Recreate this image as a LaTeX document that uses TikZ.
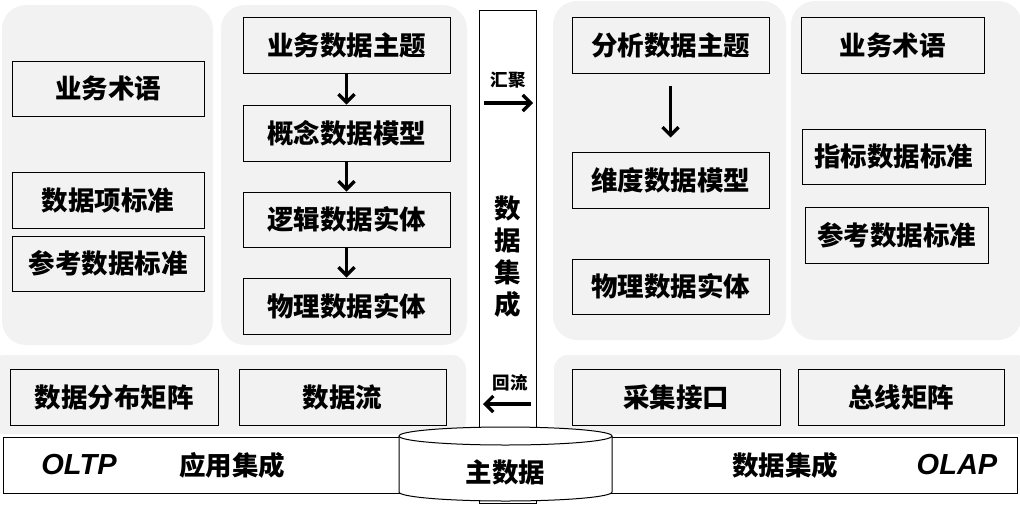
\documentclass[tikz,border=0pt]{standalone}
\usepackage{fontspec}
\setmainfont{Noto Sans CJK SC}[BoldFont={Noto Sans CJK SC Black}]
\newfontfamily\latinf{Liberation Sans}
\usetikzlibrary{arrows.meta}
\definecolor{panelgray}{HTML}{F2F2F2}
\tikzset{
  panel/.style={fill=panelgray, draw=none, rounded corners=24pt},
  box/.style={draw=black, line width=1pt, fill=panelgray, inner sep=0pt, font=\bfseries\fontsize{26.5}{26.5}\selectfont},
  flow/.style={line width=3.6pt, -{Straight Barb[length=8pt,width=16pt,line width=3.2pt]}},
  small/.style={font=\bfseries\fontsize{17.5}{17.5}\selectfont, inner sep=0pt},
  big/.style={font=\bfseries\fontsize{26.5}{26.5}\selectfont, inner sep=0pt},
  eng/.style={font=\latinf\bfseries\itshape\fontsize{29}{29}\selectfont, inner sep=0pt}
}
\begin{document}
\begin{tikzpicture}[x=1pt,y=-1pt]
\useasboundingbox (0,0) rectangle (1020,504);
% panels
\fill[panel] (2,5) rectangle (213,345);
\fill[panel] (221,5) rectangle (467,345);
\fill[panel] (553,1) rectangle (786,340);
\fill[panel] (791,1) rectangle (1022,340);
\fill[panel, rounded corners=14pt] (-10,355) rectangle (466,434);
\fill[panel, rounded corners=14pt] (554,355) rectangle (1030,434);
% central bar
\node[draw=black, line width=1pt, fill=white, minimum width=57pt, minimum height=493pt, inner sep=0pt] (bar) at (507.5,256.5) {};
% left panel
\node[box, minimum width=192pt, minimum height=55pt] (l1) at (108,88.5) {业务术语};
\node[box, minimum width=192pt, minimum height=56pt] (l2) at (108,200) {数据项标准};
\node[box, minimum width=192pt, minimum height=55pt] (l3) at (108,263.5) {参考数据标准};
% middle-left
\node[box, minimum width=207pt, minimum height=56pt] (m1) at (346.5,45) {业务数据主题};
\node[box, minimum width=207pt, minimum height=56pt] (m2) at (346.5,133) {概念数据模型};
\node[box, minimum width=207pt, minimum height=55pt] (m3) at (346.5,219.5) {逻辑数据实体};
\node[box, minimum width=207pt, minimum height=56pt] (m4) at (346.5,306) {物理数据实体};
\draw[flow] (m1.south) -- (m2.north);
\draw[flow] (m2.south) -- (m3.north);
\draw[flow] (m3.south) -- (m4.north);
% middle-right
\node[box, minimum width=197pt, minimum height=56pt] (r1) at (670.5,45) {分析数据主题};
\node[box, minimum width=197pt, minimum height=56pt] (r2) at (670.5,180) {维度数据模型};
\node[box, minimum width=197pt, minimum height=55pt] (r3) at (670.5,286.5) {物理数据实体};
\draw[flow, line width=3pt, shorten <=12pt, shorten >=14pt] (r1.south) -- (r2.north);
% right
\node[box, minimum width=183pt, minimum height=56pt] (s1) at (892.5,45) {业务术语};
\node[box, minimum width=183pt, minimum height=55pt] (s2) at (893.5,156.5) {指标数据标准};
\node[box, minimum width=183pt, minimum height=56pt] (s3) at (896.5,235) {参考数据标准};
% bar texts
\node[small] (hj) at (508,80) {汇聚};
\coordinate (hja) at (484,103);
\coordinate (hjb) at (533,103);
\draw[flow] (hja) -- (hjb);
\node[big, align=center, font=\bfseries\fontsize{26.5}{32}\selectfont] (sjjc) at (508,257) {数\\据\\集\\成};
\node[small] (hl) at (510,383) {回流};
\coordinate (hla) at (531,404);
\coordinate (hlb) at (483,404);
\draw[flow] (hla) -- (hlb);
% bottom panel boxes
\node[box, minimum width=208pt, minimum height=56pt] (b1) at (114,397) {数据分布矩阵};
\node[box, minimum width=207pt, minimum height=56pt] (b2) at (342.5,397) {数据流};
\node[box, minimum width=208pt, minimum height=56pt] (b3) at (676,397) {采集接口};
\node[box, minimum width=206pt, minimum height=56pt] (b4) at (901,397) {总线矩阵};
% bottom strip
\node[draw=black, line width=1pt, fill=white, minimum width=1014pt, minimum height=56pt, inner sep=0pt] (strip) at (510,465) {};
% cylinder
\filldraw[fill=white, draw=black, line width=1pt] (399,436) -- (399,492) arc[start angle=180, end angle=360, x radius=106.5pt, y radius=9pt] -- (612,436) arc[start angle=0, end angle=180, x radius=106.5pt, y radius=9pt] -- cycle;
\draw[line width=1pt] (399,436) arc[start angle=180, end angle=360, x radius=106.5pt, y radius=9pt];
\node[big] (zsj) at (505.5,472) {主数据};
\node[eng] (oltp) at (79,465) {OLTP};
\node[big] (yyjc) at (232,465) {应用集成};
\node[big] (sjjc2) at (785,465) {数据集成};
\node[eng] (olap) at (957,465) {OLAP};
\end{tikzpicture}
\end{document}
